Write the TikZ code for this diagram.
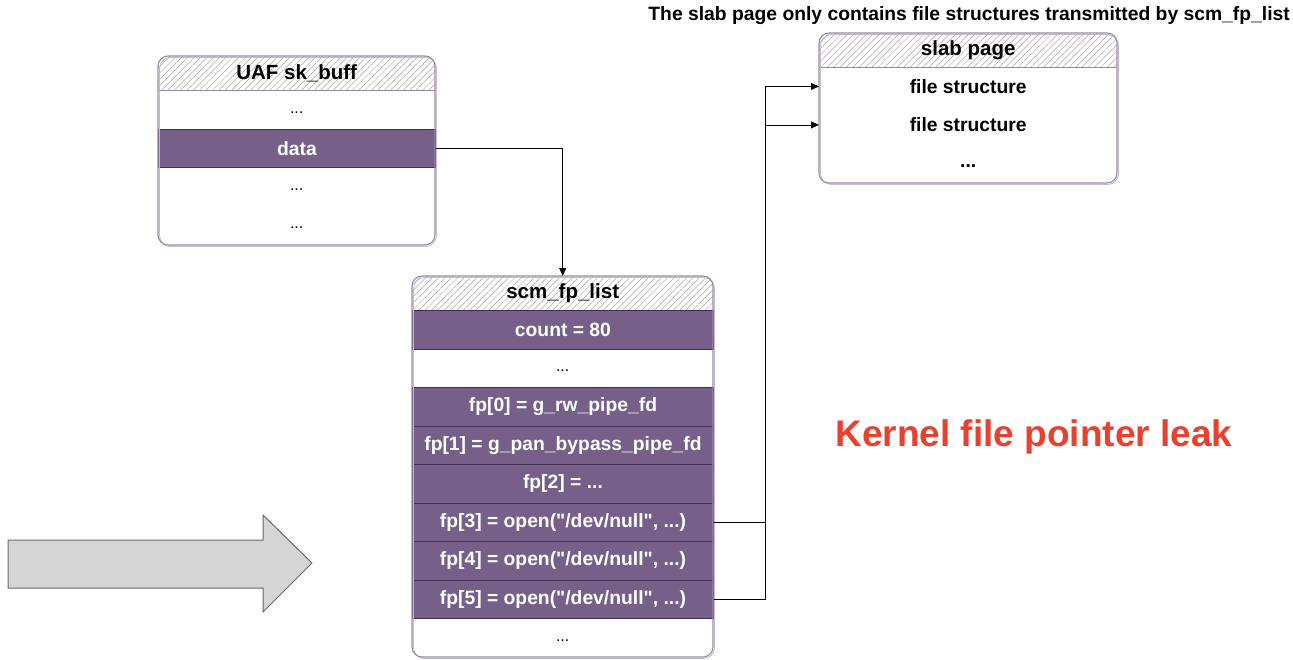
\documentclass[tikz,border=0pt]{standalone}
\usepackage{fontspec}
\setmainfont{Liberation Sans}[Ligatures=TeXOff]
\usetikzlibrary{arrows.meta,patterns.meta}

\definecolor{rowfill}{HTML}{76608A}
\definecolor{rowline}{HTML}{432D57}
\definecolor{boxline}{HTML}{9A8AA8}
\definecolor{boxshade}{HTML}{C4BCCB}
\definecolor{arrowfill}{HTML}{D5D5D5}
\definecolor{arrowline}{HTML}{686868}
\definecolor{leakred}{HTML}{E8412F}

\tikzset{
  txt/.style={font=\fontsize{19.3}{22}\selectfont\bfseries},
  darkrow/.style={draw=rowline, line width=0.9pt, fill=rowfill, text=white, txt,
    anchor=north west, inner sep=0pt},
  lightrow/.style={anchor=north west, inner sep=0pt, font=\fontsize{16}{18}\selectfont,
    text height=12pt, text depth=4pt},
  slabrow/.style={anchor=north west, inner sep=0pt, txt},
  dotrow/.style={slabrow, text height=12pt, text depth=4pt},
  headrow/.style={anchor=north west, inner sep=0pt, font=\fontsize{20.5}{23}\selectfont\bfseries},
  hatch/.style={pattern={Lines[angle=45,distance=4.5pt,line width=0.5pt]}, pattern color=black!35},
  outline/.style={draw=boxline, line width=1.1pt, rounded corners=10pt},
  shade/.style={draw=boxshade, line width=0.9pt, rounded corners=11pt},
  sepline/.style={draw=boxline, line width=0.9pt},
  conn/.style={draw=black, line width=0.9pt, -{Triangle[length=8pt,width=7pt]}},
}

\begin{document}
\begin{tikzpicture}[x=1pt,y=-1pt]
\useasboundingbox (0,0) rectangle (1293,659);

% ---------- UAF sk_buff ----------
\begin{scope}
  \clip[rounded corners=10pt] (158,56) rectangle (435,245);
  \fill[hatch] (158,56) rectangle (435,90);
\end{scope}
\node[headrow, minimum width=277pt, minimum height=34pt] (skbhead) at (158,56) {UAF sk\_buff};
\node[lightrow, minimum width=277pt, minimum height=38.5pt] (skb1) at (158,90) {...};
\node[darkrow, minimum width=277pt, minimum height=38.5pt] (data) at (158,128.5) {data};
\node[lightrow, minimum width=277pt, minimum height=38.5pt] (skb3) at (158,167) {...};
\node[lightrow, minimum width=277pt, minimum height=38.5pt] (skb4) at (158,205.5) {...};
\draw[sepline] (skbhead.south west) -- (skbhead.south east);
\draw[shade] (159.5,57.5) rectangle (436.5,246.5);
\draw[outline] (158,56) rectangle (435,245);

% ---------- scm_fp_list ----------
\begin{scope}
  \clip[rounded corners=10pt] (412,276) rectangle (713,657);
  \fill[hatch] (412,276) rectangle (713,310);
\end{scope}
\node[headrow, minimum width=301pt, minimum height=34pt] (scmhead) at (412,276) {scm\_fp\_list};
\node[darkrow, minimum width=301pt, minimum height=38.5pt] (count) at (412,310) {count = 80};
\node[lightrow, minimum width=301pt, minimum height=38.5pt] (scmgap) at (412,348.5) {...};
\node[darkrow, minimum width=301pt, minimum height=38.5pt] (fp0) at (412,387) {fp[0] = g\_rw\_pipe\_fd};
\node[darkrow, minimum width=301pt, minimum height=38.5pt] (fp1) at (412,425.5) {fp[1] = g\_pan\_bypass\_pipe\_fd};
\node[darkrow, minimum width=301pt, minimum height=38.5pt] (fp2) at (412,464) {fp[2] = ...};
\node[darkrow, minimum width=301pt, minimum height=38.5pt] (fp3) at (412,502.5) {fp[3] = open("/dev/null", ...)};
\node[darkrow, minimum width=301pt, minimum height=38.5pt] (fp4) at (412,541) {fp[4] = open("/dev/null", ...)};
\node[darkrow, minimum width=301pt, minimum height=38.5pt] (fp5) at (412,579.5) {fp[5] = open("/dev/null", ...)};
\node[lightrow, minimum width=301pt, minimum height=38pt] (scmend) at (412,618) {...};
\draw[shade] (413.5,277.5) rectangle (714.5,658.5);
\draw[outline] (412,276) rectangle (713,657);

% ---------- slab page ----------
\begin{scope}
  \clip[rounded corners=10pt] (819,33) rectangle (1117,183);
  \fill[hatch] (819,33) rectangle (1117,67);
\end{scope}
\node[headrow, minimum width=298pt, minimum height=34pt] (slabhead) at (819,33) {slab page};
\node[slabrow, minimum width=298pt, minimum height=38.5pt] (fs1) at (819,67) {file structure};
\node[slabrow, minimum width=298pt, minimum height=38.5pt] (fs2) at (819,105.5) {file structure};
\node[dotrow, minimum width=298pt, minimum height=38.5pt] (fs3) at (819,144) {...};
\draw[sepline] (slabhead.south west) -- (slabhead.south east);
\draw[shade] (820.5,34.5) rectangle (1118.5,184.5);
\draw[outline] (819,33) rectangle (1117,183);

% ---------- captions ----------
\node[anchor=east, inner sep=0pt, txt] (title) at (1290,16)
  {The slab page only contains file structures transmitted by scm\_fp\_list};
\node[inner sep=0pt, text=leakred, font=\fontsize{37}{42}\selectfont\bfseries] (leak) at (1034,437)
  {Kernel file pointer leak};

% ---------- connectors ----------
\coordinate (bus) at (765,0);
\draw[conn] (data.east) -| (scmhead.north);
\draw[conn] (fp3.east) -- (fp3.east -| bus) |- (fs1.west);
\draw[conn] (fp5.east) -- (fp5.east -| bus) |- (fs2.west);

% ---------- big block arrow ----------
\draw[fill=arrowfill, draw=arrowline, line width=1pt, line join=miter]
  (8,540) -- (263,540) -- (263,515) -- (312,563) -- (263,612) -- (263,588) -- (8,588) -- cycle;
\end{tikzpicture}
\end{document}
